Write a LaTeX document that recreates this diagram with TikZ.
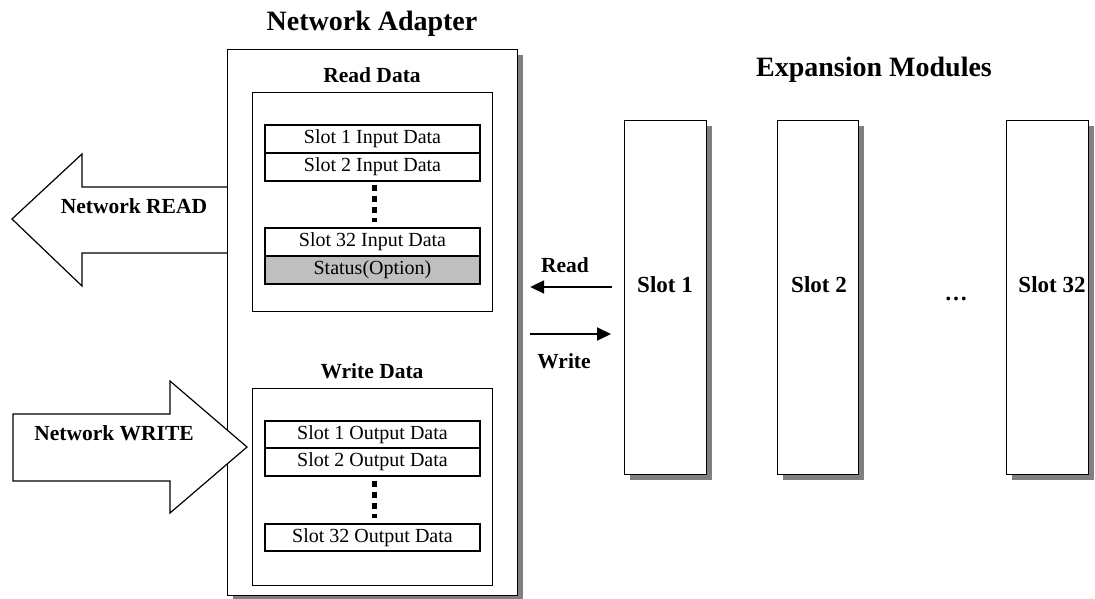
\documentclass[tikz,border=0pt]{standalone}
\usepackage{fontspec}
\setmainfont{Liberation Serif}
\usetikzlibrary{arrows.meta}
\begin{document}
\begin{tikzpicture}[x=1pt,y=-1pt,
  title/.style={font=\fontsize{28}{30}\selectfont\bfseries, inner sep=0pt, anchor=base},
  lbl/.style={font=\fontsize{21.5}{24}\selectfont\bfseries, inner sep=0pt, anchor=base},
  slotlbl/.style={font=\fontsize{23}{26}\selectfont\bfseries, inner sep=0pt, anchor=base},
  box/.style={draw=black, line width=1.2pt, fill=white, inner sep=0pt, anchor=north west},
  shadowbox/.style={box, preaction={draw=none, fill=black!50, transform canvas={shift={(5pt,-5pt)}}}},
  row/.style={draw=black, line width=1.2pt, fill=white, inner sep=0pt, minimum width=215, minimum height=28, font=\fontsize{20}{22}\selectfont},
  vdots/.style={line width=5pt, dash pattern=on 6pt off 5pt},
  blockarrow/.style={draw=black, line width=1.2pt, fill=white, line join=miter},
  arr/.style={line width=2pt, -{Triangle[length=14pt,width=13pt]}}
]
\useasboundingbox (0,0) rectangle (1095,598);

% Titles
\node[title] (natitle) at (372,30) {Network Adapter};
\node[title] (emtitle) at (874,76) {Expansion Modules};

% Network READ block arrow (behind adapter box)
\draw[blockarrow] (227,187) -- (82,187) -- (82,154) -- (12,219) -- (82,286) -- (82,253) -- (227,253);

% Adapter outer box
\node[shadowbox, minimum width=290, minimum height=546] (adapter) at (227,49) {};

% Read data
\node[lbl] (rdlbl) at (372,82) {Read Data};
\node[box, minimum width=240, minimum height=219] (rdbox) at (252,92) {};
\node[row] (r1) at (372.5,139) {Slot 1 Input Data};
\node[row] (r2) at (372.5,167) {Slot 2 Input Data};
\node[row] (r32) at (372.5,242) {Slot 32 Input Data};
\node[row, fill=black!25] (rst) at (372.5,270) {Status(Option)};
\draw[vdots] ([xshift=2pt,yshift=-3pt]r2.south) -- ([xshift=2pt,yshift=5pt]r32.north);

% Write data
\node[lbl] (wdlbl) at (372,378) {Write Data};
\node[box, minimum width=240, minimum height=197] (wdbox) at (252,388) {};
\node[row, minimum height=27] (w1) at (372.5,434.5) {Slot 1 Output Data};
\node[row] (w2) at (372.5,462) {Slot 2 Output Data};
\node[row, minimum height=27] (w32) at (372.5,537.5) {Slot 32 Output Data};
\draw[vdots] ([xshift=2pt,yshift=-4pt]w2.south) -- ([xshift=2pt,yshift=5pt]w32.north);

% Network WRITE block arrow (on top)
\draw[blockarrow] (13,414) -- (170,414) -- (170,381) -- (247,447) -- (170,513) -- (170,481) -- (13,481) -- cycle;

\node[lbl] (nread) at (134,213) {Network READ};
\node[lbl] (nwrite) at (114,440) {Network WRITE};

% Expansion module slots
\node[shadowbox, minimum width=82, minimum height=354] (slot1) at (624,120) {};
\node[shadowbox, minimum width=81, minimum height=354] (slot2) at (777,120) {};
\node[shadowbox, minimum width=82, minimum height=354] (slot32) at (1006,120) {};
\node[slotlbl] (s1lbl) at (665,292) {Slot 1};
\node[slotlbl] (s2lbl) at (819,292) {Slot 2};
\node[slotlbl] (s32lbl) at (1052,292) {Slot 32};
\node[slotlbl] (ell) at (956,300) {\ldots};

% Read / Write arrows
\coordinate (rdy) at (0,287);
\coordinate (wry) at (0,334);
\draw[arr, shorten <=12pt, shorten >=12pt] (slot1.west |- rdy) -- (adapter.east |- rdy);
\draw[arr, shorten <=12pt, shorten >=13pt] (adapter.east |- wry) -- (slot1.west |- wry);
\node[lbl] (rlbl) at (565,272) {Read};
\node[lbl] (wlbl) at (564,368) {Write};
\end{tikzpicture}
\end{document}
